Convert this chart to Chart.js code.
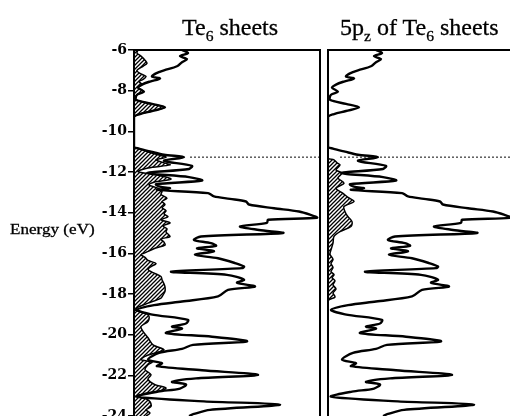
<!DOCTYPE html>
<html><head><meta charset="utf-8">
<script src="https://cdn.jsdelivr.net/npm/chart.js@4.4.1/dist/chart.umd.min.js"></script>
<style>
html,body{margin:0;padding:0;background:#fff;overflow:hidden;width:510px;height:416px}
#wrap{position:relative;width:510px;height:416px;overflow:hidden;background:#fff}
canvas{position:absolute;left:0;top:0}
.t{position:absolute;font-family:'Liberation Serif','Times New Roman',serif;color:#000;white-space:nowrap;line-height:1;-webkit-text-stroke:0.3px #000}
.s{font-size:65%;position:relative;top:0.38em}
</style></head><body>
<div id="wrap">
<canvas id="c1" width="510" height="440" style="width:510px;height:440px"></canvas>
<canvas id="c2" width="510" height="440" style="width:510px;height:440px"></canvas>
<div class="t" style="left:182px;top:15px;font-size:24px">Te<span class="s">6</span> sheets</div>
<div class="t" style="left:340px;top:15px;font-size:24px">5p<span class="s">z</span> of Te<span class="s">6</span> sheets</div>
<div class="t" style="left:10px;top:222px;font-size:15px;transform:scaleX(1.14);transform-origin:left top">Energy (eV)</div>
</div>
<script>
// ---- data (energies in eV, DOS in arbitrary units) ----
const yTicks = [-24, -22, -20, -18, -16, -14, -12, -10, -8, -6];
const fermiE = -11.27;
const fermiStart = [56, 12];

const totalE = [-6.00,-6.15,-6.30,-6.45,-6.60,-6.80,-7.00,-7.15,-7.30,-7.40,-7.55,-7.70,-7.85,-8.05,-8.20,-8.45,-8.65,-8.82,-9.00,-9.15,-9.30,
 -10.75,-10.85,-11.00,-11.15,-11.27,-11.45,-11.70,-11.85,-12.05,-12.25,-12.42,-12.60,-12.72,-12.80,-12.88,
 -13.04,-13.20,-13.32,-13.45,-13.60,-13.78,-13.94,-14.10,-14.25,-14.35,-14.50,-14.68,-14.85,-15.00,-15.17,-15.34,-15.50,-15.63,-15.75,-15.90,
 -16.07,-16.24,-16.48,-16.65,-16.73,-16.90,-17.06,-17.30,-17.45,-17.63,-17.80,-18.12,-18.37,-18.55,-18.78,-19.00,-19.27,-19.45,-19.60,-19.70,-19.92,
 -20.10,-20.33,-20.50,-20.70,-20.90,-21.23,-21.40,-21.55,-21.75,-21.98,-22.15,-22.32,-22.45,-22.65,-22.80,-23.05,-23.28,-23.44,-23.70,-23.90,-24.00];
const totalDos = [48,54,46,53,48,43,30,22,18,26,16,8,4,10,3,2,18,31,18,6,0,
 0,5,17,30,50,30,58,55,13,55,68,22,26,36,23,
 74,80,96,112,115,140,165,176,183,134,133,106,125,149,67,60,77,82,63,80,
 61,84,101,110,108,37,93,110,103,121,94,84,48,20,3,17,54,52,38,48,32,
 78,113,59,48,25,14,28,23,68,124,62,38,52,46,24,3,70,146,76,60,55];

const te6E = [-6.00,-6.15,-6.30,-6.50,-6.65,-6.80,-7.00,-7.15,-7.30,-7.45,-7.55,-7.70,-7.85,-8.05,-8.20,-8.45,-8.65,-8.82,-9.00,-9.15,-9.30,
 -10.75,-10.90,-11.00,-11.15,-11.27,-11.40,-11.55,-11.65,-11.80,-11.98,-12.14,-12.35,-12.50,-12.63,-12.80,-12.95,
 -13.10,-13.29,-13.45,-13.60,-13.75,-13.90,-14.05,-14.20,-14.35,-14.50,-14.65,-14.80,-14.95,-15.17,-15.30,-15.45,-15.60,-15.75,-15.95,
 -16.07,-16.20,-16.35,-16.50,-16.65,-16.80,-16.95,-17.14,-17.30,-17.50,-17.65,-17.87,-18.05,-18.20,-18.45,-18.65,-18.80,-18.95,
 -19.10,-19.35,-19.60,-19.84,-20.15,-20.50,-20.74,-20.90,-21.07,-21.23,-21.35,-21.48,-21.72,-21.97,-22.20,-22.46,-22.62,-22.75,-22.87,
 -23.03,-23.15,-23.30,-23.53,-23.70,-23.85,-24.00];
const te6Dos = [4,3,7,11,13,9,3,6,12,9,5,8,4,10,3,2,18,31,18,6,0,
 0,8,13,24,32,22,30,36,14,4,23,37,20,15,24,28,
 27,33,28,31,28,32,30,34,27,36,29,33,32,36,27,30,31,21,12,
 7,11,14,22,17,14,19,27,28,30,31,31,29,27,14,4,1,12,
 15,14,7,9,14,19,30,21,11,7,18,14,11,17,14,21,32,27,14,
 2,12,16,17,12,16,12];

const pzE = [-6.00,-11.30,-11.40,-11.55,-11.65,-11.90,-12.05,-12.30,-12.55,-12.80,-13.05,-13.25,-13.45,-13.70,-13.95,-14.20,-14.44,-14.68,-14.93,
 -15.17,-15.50,-15.83,-16.05,-16.30,-16.50,-16.70,-16.90,-17.05,-17.20,-17.35,-17.55,-17.75,-17.95,-18.15,-18.35,-24.00];
const pzDos = [0,0,6,9,12,8,14,10,16,8,15,20,26,16,17,20,24,23,12,
 6,5,3,2,5,3,5,3,6,4,7,5,8,5,7,0,0];

// ---- helpers ----
const pts = (E, D) => E.map((e, i) => ({x: D[i], y: e}));

const pc = document.createElement('canvas'); pc.width = 4; pc.height = 4;
const g = pc.getContext('2d');
g.strokeStyle = '#000'; g.lineWidth = 1.3;
g.beginPath();
g.moveTo(0, 4); g.lineTo(4, 0);
g.moveTo(-1, 1); g.lineTo(1, -1);
g.moveTo(3, 5); g.lineTo(5, 3);
g.stroke();
const hatch = g.createPattern(pc, 'repeat');

const frame = {
  id: 'frame',
  afterDatasetsDraw(chart, args, opts) {
    const {ctx, chartArea: a} = chart;
    ctx.save();
    ctx.strokeStyle = '#000'; ctx.lineWidth = 2;
    ctx.beginPath();
    ctx.moveTo(a.left, a.top); ctx.lineTo(a.right, a.top);
    if (opts.right) ctx.lineTo(a.right, a.bottom + 30);
    ctx.stroke();
    ctx.restore();
  }
};

function build(id, partE, partD, fStart, xMax, leftW, padRight, labels, rightBorder) {
  return new Chart(document.getElementById(id), {
    type: 'line',
    data: {
      datasets: [
        {data: pts(totalE, totalDos), borderColor: '#000', borderWidth: 2.4, pointRadius: 0, tension: 0.3, fill: false, order: 0},
        {data: [{x: fStart, y: fermiE}, {x: xMax, y: fermiE}], borderColor: '#333', borderWidth: 1.2, borderDash: [2, 2], pointRadius: 0, fill: false, order: 1},
        {data: pts(partE, partD), borderColor: '#000', borderWidth: 1.5, backgroundColor: hatch, pointRadius: 0, tension: 0.3, fill: 'origin', order: 2}
      ]
    },
    options: {
      indexAxis: 'y',
      responsive: false,
      animation: false,
      devicePixelRatio: 1,
      layout: {padding: {left: 0, right: padRight, top: 50, bottom: 24}},
      plugins: {legend: {display: false}, tooltip: {enabled: false}, frame: {right: rightBorder}},
      scales: {
        x: {type: 'linear', min: 0, max: xMax, display: false},
        y: {
          type: 'linear', min: -24, max: -6, position: 'left',
          afterBuildTicks: s => { s.ticks = yTicks.map(v => ({value: v})); },
          afterFit: s => { s.width = leftW; },
          ticks: {display: labels, color: '#000', padding: 1, autoSkip: false,
                  font: {family: 'DejaVu Serif', weight: 'bold', size: 14}},
          grid: {drawOnChartArea: false, drawTicks: labels, tickLength: 6, color: '#000', lineWidth: 1.5},
          border: {display: true, color: '#000', width: 2}
        }
      }
    },
    plugins: [frame]
  });
}

build('c1', te6E, te6Dos, fermiStart[0], 186, 134, 190, true, true);
build('c2', pzE, pzDos, fermiStart[1], 182, 328, 0, false, false);
</script>
</body></html>
